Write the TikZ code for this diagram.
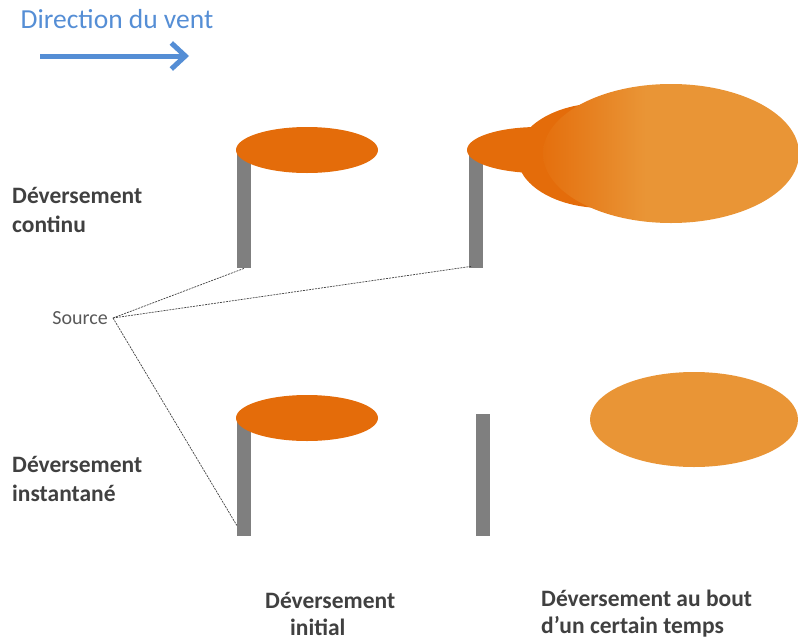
\documentclass[tikz,border=0pt]{standalone}
\usepackage{fontspec}
\setmainfont{Carlito}
\usetikzlibrary{arrows.meta,shapes.geometric}
\definecolor{orA}{HTML}{E46C0A}
\definecolor{orB}{HTML}{E99536}
\definecolor{pole}{HTML}{7F7F7F}
\definecolor{windblue}{HTML}{558ED5}
\definecolor{lab}{HTML}{404040}
\definecolor{src}{HTML}{595959}
\pgfdeclarehorizontalshading{plume}{100bp}{color(0bp)=(orA!92!orB); color(25bp)=(orA!92!orB); color(45bp)=(orB); color(100bp)=(orB)}
\tikzset{
  polebox/.style={fill=pole, draw=none, minimum width=14pt, inner sep=0pt, anchor=north},
  cloud/.style={ellipse, draw=none, inner sep=0pt},
  rowlabel/.style={font=\fontsize{23.5}{29}\selectfont\bfseries, text=lab, align=left, anchor=west, inner sep=0pt},
  collabel/.style={font=\fontsize{23.5}{27}\selectfont\bfseries, text=lab, inner sep=0pt, align=left, anchor=west},
  leader/.style={draw=lab, dashed, dash pattern=on 2pt off 1pt, line width=0.7pt}
}
\begin{document}
\begin{tikzpicture}[x=1pt,y=-1pt]
\useasboundingbox (0,0) rectangle (798,640);
% wind
\node[font=\fontsize{27.5}{30}\selectfont, text=windblue, inner sep=0pt] (wind) at (117,19) {Direction du vent};
\coordinate (w0) at (40,56);
\coordinate (w1) at (189,56);
\draw[windblue, line width=5pt, -{Straight Barb[length=14pt,width=26pt,line width=5pt]}] (w0) -- (w1);
% top left
\node[polebox, minimum height=116pt] (p1) at (244,152) {};
\node[cloud, fill=orA, minimum width=142pt, minimum height=46pt] (e1) at (307,150) {};
% top right
\node[polebox, minimum height=118pt] (p2) at (476,150) {};
\node[cloud, fill=orA, minimum width=142pt, minimum height=46pt] (e2) at (538,150) {};
\node[cloud, fill=orA, minimum width=172pt, minimum height=105pt] (e3) at (603,155.5) {};
\path[shading=plume] (671,153.5) ellipse [x radius=128pt, y radius=69.5pt];
\coordinate (e4) at (671,153.5);
% bottom left
\node[polebox, minimum height=118pt] (p3) at (244,418) {};
\node[cloud, fill=orA, minimum width=142pt, minimum height=46pt] (e5) at (307,418) {};
% bottom right
\node[polebox, minimum height=122pt] (p4) at (483,414) {};
\node[cloud, fill=orB, minimum width=208pt, minimum height=95pt] (e6) at (694,419.5) {};
% labels
\node[rowlabel] (l1) at (12,210) {Déversement\\continu};
\node[rowlabel] (l2) at (12,479) {Déversement\\instantané};
\node[collabel] (c1) at (265,614) {Déversement\\\hspace*{25pt}initial};
\node[collabel] (c2) at (541,614) {Déversement au bout\\d’un certain temps};
\node[font=\fontsize{20}{22}\selectfont, text=src, inner sep=0pt, anchor=east] (s) at (108,318) {Source};
\coordinate (sp) at (113,318);
% leaders
\draw[leader] (sp) -- (p1.south);
\draw[leader] (sp) -- ([xshift=-5pt,yshift=2pt]p2.south);
\draw[leader] (sp) -- ([yshift=11pt]p3.south west);
\end{tikzpicture}
\end{document}
